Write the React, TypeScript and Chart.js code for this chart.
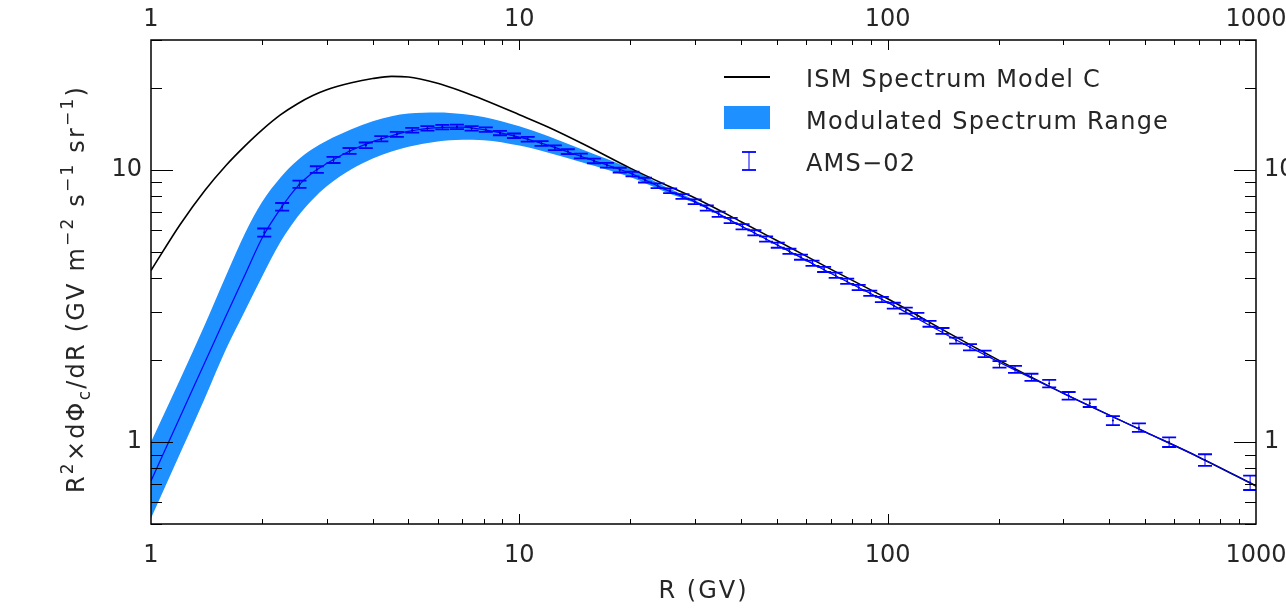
import React, { useEffect, useRef } from 'react';
import { Chart, registerables } from 'chart.js';

Chart.register(...registerables);

// ---------- data ----------
const modelR = [1, 1.2, 1.4, 1.6, 1.8, 2, 2.25, 2.5, 2.75, 3, 3.5, 4, 4.5, 5, 6, 7, 8, 10, 12, 15, 20, 25, 30, 40, 50, 70, 100, 150, 200, 300, 500, 700, 1000];
const ismModelC = [4.27, 6.3, 8.4, 10.4, 12.25, 14.0, 15.95, 17.5, 18.75, 19.7, 20.9, 21.65, 22.05, 21.95, 20.8, 19.4, 18.1, 15.95, 14.35, 12.4, 10.15, 8.8, 7.88, 6.45, 5.5, 4.32, 3.36, 2.47, 2.0, 1.51, 1.09, 0.88, 0.69];
const modulatedCenter = [0.72, 1.24, 1.96, 2.92, 4.12, 5.6, 7.22, 8.7, 9.78, 10.55, 11.8, 12.7, 13.35, 13.85, 14.3, 14.35, 14.05, 13.2, 12.3, 11.1, 9.72, 8.45, 7.63, 6.22, 5.31, 4.17, 3.26, 2.41, 1.97, 1.51, 1.09, 0.88, 0.69];
const modulatedUpper = [1.0, 1.7, 2.7, 4.1, 5.85, 7.6, 9.4, 10.85, 11.95, 12.8, 14.1, 15.1, 15.75, 16.1, 16.25, 16.05, 15.65, 14.45, 13.3, 11.8, 10.1, 8.66, 7.74, 6.26, 5.33, 4.18, 3.27, 2.41, 1.97, 1.51, 1.09, 0.88, 0.69];
const modulatedLower = [0.525, 0.91, 1.45, 2.2, 3.04, 4.04, 5.45, 6.73, 7.8, 8.7, 10.05, 11.0, 11.67, 12.15, 12.7, 12.9, 12.85, 12.28, 11.56, 10.6, 9.41, 8.28, 7.55, 6.19, 5.29, 4.16, 3.25, 2.41, 1.97, 1.51, 1.09, 0.88, 0.69];

const amsR = [2.03, 2.27, 2.53, 2.82, 3.13, 3.46, 3.83, 4.22, 4.65, 5.12, 5.63, 6.18, 6.77, 7.42, 8.11, 8.86, 9.67, 10.54, 11.49, 12.49, 13.54, 14.69, 15.94, 17.29, 18.73, 20.29, 21.94, 23.73, 25.67, 27.73, 29.93, 32.28, 34.77, 37.48, 40.37, 43.47, 46.77, 50.31, 54.12, 58.16, 62.51, 67.2, 72.25, 77.65, 83.44, 89.69, 96.44, 103.9, 112, 120.4, 129.9, 140.9, 153.4, 167.3, 183.3, 201.2, 221.7, 245.7, 274.5, 310, 353.7, 408.8, 481, 581, 727, 964];
const amsFlux = [5.89, 7.32, 8.86, 10.03, 10.88, 11.74, 12.31, 13.02, 13.51, 13.98, 14.21, 14.37, 14.40, 14.21, 14.05, 13.66, 13.35, 12.95, 12.51, 12.06, 11.67, 11.25, 10.79, 10.40, 9.98, 9.65, 9.17, 8.74, 8.38, 7.99, 7.64, 7.24, 6.87, 6.52, 6.18, 5.87, 5.57, 5.29, 5.02, 4.78, 4.54, 4.31, 4.10, 3.90, 3.70, 3.52, 3.34, 3.17, 3.04, 2.91, 2.72, 2.56, 2.36, 2.23, 2.11, 1.93, 1.85, 1.73, 1.64, 1.48, 1.39, 1.20, 1.13, 1.00, 0.86, 0.71];
const amsRelErr = [0.034, 0.032, 0.030, 0.028, 0.026, 0.025, 0.024, 0.022, 0.021, 0.020, 0.019, 0.019, 0.019, 0.019, 0.019, 0.019, 0.019, 0.020, 0.020, 0.020, 0.020, 0.020, 0.020, 0.020, 0.020, 0.020, 0.020, 0.020, 0.020, 0.020, 0.020, 0.022, 0.022, 0.022, 0.022, 0.022, 0.022, 0.022, 0.022, 0.022, 0.022, 0.022, 0.022, 0.022, 0.022, 0.022, 0.022, 0.025, 0.025, 0.025, 0.025, 0.025, 0.025, 0.026, 0.027, 0.028, 0.029, 0.030, 0.032, 0.032, 0.032, 0.038, 0.036, 0.041, 0.049, 0.061];

const xLabelValues = [1, 10, 100, 1000];
const yLabelValues = [1, 10];
const xMajorTicks = [10, 100];
const xMinorTicks = [2, 3, 4, 5, 6, 7, 8, 9, 20, 30, 40, 50, 60, 70, 80, 90, 200, 300, 400, 500, 600, 700, 800, 900];
const yMajorTicks = [1, 10];
const yMinorTicks = [0.5, 0.6, 0.7, 0.8, 0.9, 2, 3, 4, 5, 6, 7, 8, 9, 20, 30];

const legendLabels = ['ISM Spectrum Model C', 'Modulated Spectrum Range', 'AMS\u221202'];

// ---------- styles ----------
const FONT = '"DejaVu Sans", "Liberation Sans", sans-serif';
const WEIGHT = 400;
const TEXT_COLOR = '#262626';
const BAND_COLOR = '#1E90FF';
const BLUE = '#0000ff';

type Seg = { t: string; s?: 'sup' | 'sub' };
const yTitle: Seg[] = [
  { t: 'R' }, { t: '2', s: 'sup' }, { t: '\u00d7d\u03a6' }, { t: 'c', s: 'sub' },
  { t: '/dR (GV m' }, { t: '\u22122', s: 'sup' }, { t: ' s' }, { t: '\u22121', s: 'sup' },
  { t: ' sr' }, { t: '\u22121', s: 'sup' }, { t: ')' },
];

function drawRich(ctx: CanvasRenderingContext2D, segs: Seg[], cx: number, baseY: number, targetWidth: number) {
  const main = `${WEIGHT} 24px ${FONT}`;
  const small = `${WEIGHT} 17px ${FONT}`;
  const anyCtx = ctx as any;
  anyCtx.letterSpacing = '0px';
  let w0 = 0; let nChars = 0;
  segs.forEach((sg) => { ctx.font = sg.s ? small : main; w0 += ctx.measureText(sg.t).width; nChars += sg.t.length; });
  const spacing = Math.max(0, (targetWidth - w0) / nChars);
  anyCtx.letterSpacing = `${spacing}px`;
  const widths = segs.map((sg) => { ctx.font = sg.s ? small : main; return ctx.measureText(sg.t).width; });
  const total = widths.reduce((a, b) => a + b, 0);
  let x = cx - total / 2;
  segs.forEach((sg, i) => {
    ctx.font = sg.s ? small : main;
    const dy = sg.s === 'sup' ? -11 : sg.s === 'sub' ? 6 : 0;
    ctx.fillText(sg.t, x, baseY + dy);
    x += widths[i];
  });
  anyCtx.letterSpacing = '0px';
}

const errorBarPlugin = {
  id: 'errorBars',
  afterDatasetsDraw(chart: any) {
    const { ctx, chartArea: a, scales } = chart;
    const xs = scales.x; const ys = scales.y;
    ctx.save();
    ctx.beginPath(); ctx.rect(a.left, a.top, a.right - a.left, a.bottom - a.top); ctx.clip();
    ctx.strokeStyle = BLUE;
    amsR.forEach((r, i) => {
      const v = amsFlux[i]; const e = amsRelErr[i];
      const px = xs.getPixelForValue(r);
      const yt = ys.getPixelForValue(v * (1 + e));
      const yb = ys.getPixelForValue(v * (1 - e));
      ctx.lineWidth = 1;
      ctx.beginPath(); ctx.moveTo(px, yt); ctx.lineTo(px, yb); ctx.stroke();
      ctx.lineWidth = 1.8;
      ctx.beginPath();
      ctx.moveTo(px - 7, yt); ctx.lineTo(px + 7, yt);
      ctx.moveTo(px - 7, yb); ctx.lineTo(px + 7, yb);
      ctx.stroke();
    });
    ctx.restore();
  },
};

const framePlugin = {
  id: 'frameTicks',
  afterDraw(chart: any) {
    const { ctx, chartArea: a, scales } = chart;
    const xs = scales.x; const ys = scales.y;
    ctx.save();
    ctx.strokeStyle = '#000';
    ctx.lineWidth = 1;
    const seg = (x1: number, y1: number, x2: number, y2: number) => { ctx.beginPath(); ctx.moveTo(x1, y1); ctx.lineTo(x2, y2); ctx.stroke(); };
    const xt = (vals: number[], len: number) => vals.forEach((v) => {
      const px = Math.round(xs.getPixelForValue(v)) + 0.5;
      seg(px, a.bottom, px, a.bottom - len); seg(px, a.top, px, a.top + len);
    });
    const yt = (vals: number[], len: number) => vals.forEach((v) => {
      const py = Math.round(ys.getPixelForValue(v)) + 0.5;
      seg(a.left, py, a.left + len, py); seg(a.right, py, a.right - len, py);
    });
    xt(xMajorTicks, 10); xt(xMinorTicks, 5);
    yt(yMajorTicks, 22); yt(yMinorTicks, 11);
    ctx.lineWidth = 1.5;
    ctx.strokeRect(a.left, a.top, a.right - a.left, a.bottom - a.top);

    // legend
    ctx.fillStyle = TEXT_COLOR;
    ctx.textBaseline = 'alphabetic';
    ctx.textAlign = 'left';
    ctx.font = `${WEIGHT} 24px ${FONT}`;
    (ctx as any).letterSpacing = '1.2px';
    const rows = [86.5, 128.5, 170.5];
    legendLabels.forEach((t, i) => ctx.fillText(t, 806, rows[i]));
    (ctx as any).letterSpacing = '0px';
    ctx.strokeStyle = '#000'; ctx.lineWidth = 2;
    seg(724, 77, 770, 77);
    ctx.fillStyle = BAND_COLOR;
    ctx.fillRect(724, 106, 46, 23);
    ctx.strokeStyle = BLUE; ctx.lineWidth = 1;
    seg(749, 152, 749, 170);
    ctx.lineWidth = 1.8;
    seg(742, 152, 756, 152); seg(742, 170, 756, 170);

    // axis titles
    ctx.fillStyle = TEXT_COLOR;
    ctx.textAlign = 'left';
    drawRich(ctx, [{ t: 'R (GV)' }], (a.left + a.right) / 2, 598, 90);
    ctx.save();
    ctx.translate(84, 289);
    ctx.rotate(-Math.PI / 2);
    drawRich(ctx, yTitle, 0, 0, 408);
    ctx.restore();
    ctx.restore();
  },
};

const tickFont = { family: FONT, size: 24, weight: WEIGHT as any };

function logAxis(position: string, min: number, max: number, labels: number[], size: number, padding: number) {
  const horizontal = position === 'top' || position === 'bottom';
  return {
    type: 'logarithmic',
    position,
    min,
    max,
    grid: { display: false, drawTicks: false },
    border: { display: false },
    ticks: {
      autoSkip: false,
      maxRotation: 0,
      minRotation: 0,
      padding,
      color: TEXT_COLOR,
      font: tickFont,
      callback: (v: any) => String(v),
    },
    afterBuildTicks: (scale: any) => { scale.ticks = labels.map((v) => ({ value: v })); },
    afterFit: (scale: any) => {
      if (horizontal) scale.height = size; else scale.width = size;
      scale.paddingLeft = 0; scale.paddingRight = 0; scale.paddingTop = 0; scale.paddingBottom = 0;
    },
  };
}

export default function App() {
  const ref = useRef<HTMLCanvasElement | null>(null);
  useEffect(() => {
    if (!ref.current) return;
    const lineCommon = { pointRadius: 0, cubicInterpolationMode: 'monotone' as const };
    const chart = new Chart(ref.current, {
      type: 'line',
      data: {
        datasets: [
          {
            type: 'scatter',
            label: 'AMS-02',
            data: amsR.map((r, i) => ({ x: r, y: amsFlux[i] })),
            pointRadius: 1,
            pointBackgroundColor: '#000030',
            pointBorderWidth: 0,
            showLine: false,
            order: 1,
          } as any,
          {
            ...lineCommon,
            label: 'Modulated center',
            data: modelR.map((r, i) => ({ x: r, y: modulatedCenter[i] })),
            borderColor: BLUE,
            borderWidth: 1.2,
            fill: false,
            order: 2,
          },
          {
            ...lineCommon,
            label: 'ISM Spectrum Model C',
            data: modelR.map((r, i) => ({ x: r, y: ismModelC[i] })),
            borderColor: '#000',
            borderWidth: 1.6,
            fill: false,
            order: 3,
          },
          {
            ...lineCommon,
            label: 'Modulated Spectrum Range',
            data: modelR.map((r, i) => ({ x: r, y: modulatedUpper[i] })),
            borderColor: 'rgba(0,0,0,0)',
            borderWidth: 0,
            backgroundColor: BAND_COLOR,
            fill: '+1',
            order: 4,
          },
          {
            ...lineCommon,
            label: 'lower',
            data: modelR.map((r, i) => ({ x: r, y: modulatedLower[i] })),
            borderColor: 'rgba(0,0,0,0)',
            borderWidth: 0,
            fill: false,
            order: 5,
          },
        ],
      },
      options: {
        animation: false,
        responsive: false,
        devicePixelRatio: 1,
        layout: { padding: 0 },
        plugins: { legend: { display: false }, tooltip: { enabled: false } },
        scales: {
          x: logAxis('bottom', 1, 1000, xLabelValues, 92, 17),
          x2: logAxis('top', 1, 1000, xLabelValues, 40, 6),
          y: logAxis('left', 0.5, 30, yLabelValues, 151, 9),
          y2: logAxis('right', 0.5, 30, yLabelValues, 30, 8),
        } as any,
      },
      plugins: [errorBarPlugin, framePlugin],
    });
    return () => chart.destroy();
  }, []);
  return (
    <div style={{ position: 'absolute', left: 0, top: 0, width: 1286, height: 616, background: '#fff' }}>
      <canvas ref={ref} width={1286} height={616} style={{ width: 1286, height: 616, display: 'block' }} />
    </div>
  );
}
